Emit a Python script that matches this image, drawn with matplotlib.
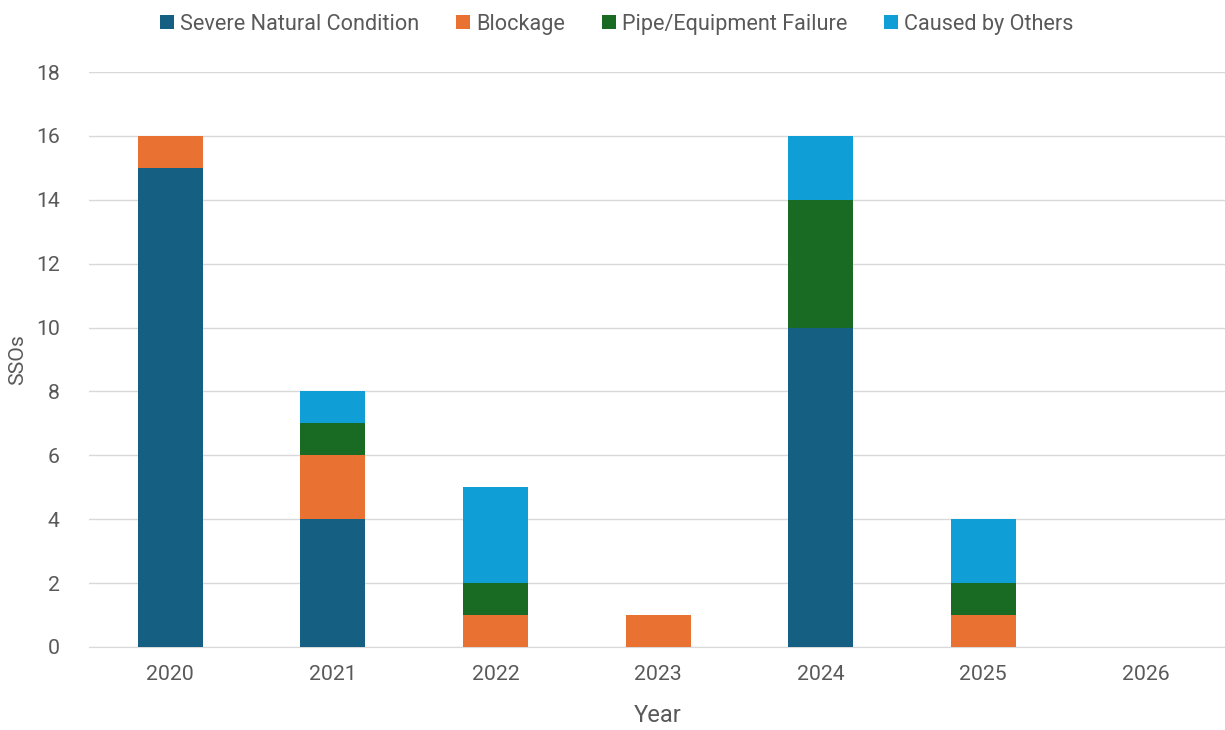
import numpy as np
import matplotlib.pyplot as plt

plt.rcParams['font.family'] = ['Roboto', 'DejaVu Sans']

years = ['2020', '2021', '2022', '2023', '2024', '2025', '2026']
severe = [15, 4, 0, 0, 10, 0, 0]
blockage = [1, 2, 1, 1, 0, 1, 0]
pipe = [0, 1, 1, 0, 4, 1, 0]
others = [0, 1, 3, 0, 2, 2, 0]

series = [
    ('Severe Natural Condition', severe, '#156082'),
    ('Blockage', blockage, '#E97132'),
    ('Pipe/Equipment Failure', pipe, '#196B24'),
    ('Caused by Others', others, '#0F9ED5'),
]

fig = plt.figure(figsize=(12.25, 7.3), dpi=100)
# axes slightly wider than the figure: the last category is cut like the original
ax = fig.add_axes([89 / 1225, 83 / 730, 7 * 162.6 / 1225, 575 / 730])

x = np.arange(len(years))
bottom = np.zeros(len(years))
for name, vals, col in series:
    ax.bar(x, vals, 0.4, bottom=bottom, color=col, label=name, zorder=3)
    bottom += np.array(vals)

ax.set_xlim(-0.5, len(years) - 0.5)
ax.set_ylim(0, 18)
ax.set_yticks(range(0, 19, 2))
ax.set_xticks(x)
ax.set_xticklabels(years)
ax.grid(axis='y', color='#d9d9d9', linewidth=1, zorder=0)
for s in ['top', 'right', 'left']:
    ax.spines[s].set_visible(False)
ax.spines['bottom'].set_color('#d9d9d9')
ax.tick_params(length=0, labelsize=15.3, colors='#595959')
ax.tick_params(axis='x', pad=13)
ax.tick_params(axis='y', pad=21)
ax.set_xlabel('Year', fontsize=17, color='#595959', labelpad=14)
ax.set_ylabel('SSOs', fontsize=15.3, color='#595959', labelpad=6)

fig.legend(loc='upper center', bbox_to_anchor=(617 / 1225, 1.008), ncol=4,
           frameon=False, fontsize=15.6, labelcolor='#595959',
           handlelength=0.62, handleheight=0.62, handletextpad=0.3, columnspacing=1.7)

fig.savefig('out.png', dpi=100)
